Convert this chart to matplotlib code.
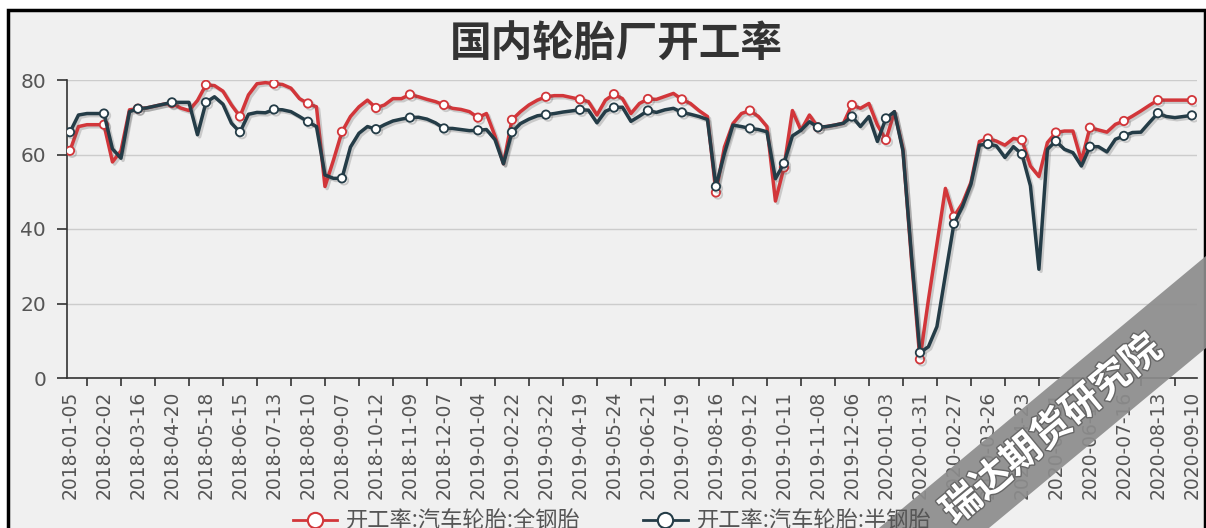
import matplotlib
matplotlib.use("Agg")
import numpy as np
import matplotlib.pyplot as plt
import matplotlib.patheffects as pe
from matplotlib.patches import Polygon, Rectangle
from matplotlib.lines import Line2D


# weekly tyre plant operating rate
tick_labels = [
    "2018-01-05", "2018-02-02", "2018-03-16", "2018-04-20", "2018-05-18", "2018-06-15",
    "2018-07-13", "2018-08-10", "2018-09-07", "2018-10-12", "2018-11-09", "2018-12-07",
    "2019-01-04", "2019-02-22", "2019-03-22", "2019-04-19", "2019-05-24", "2019-06-21",
    "2019-07-19", "2019-08-16", "2019-09-12", "2019-10-11", "2019-11-08", "2019-12-06",
    "2020-01-03", "2020-01-31", "2020-02-27", "2020-03-26", "2020-04-23", "2020-05-21",
    "2020-06-18", "2020-07-16", "2020-08-13", "2020-09-10",
]

all_steel = [
    61, 67.5, 68, 68, 68, 58, 61, 72, 72.3, 72.5, 73, 73.5, 73.8, 72.5, 71.8, 74.5,
    78.7, 78.5, 77, 73.3, 70.2, 76, 79, 79.3, 79, 78.8, 77.8, 75, 73.7, 72.8, 51.4, 58.5,
    66.1, 70.2, 72.8, 74.6, 72.5, 73.3, 75, 75, 76.1, 75.5, 74.8, 74.2, 73.3, 72.4, 72.1, 71.5,
    69.9, 71, 65, 57.5, 69.3, 71.5, 73.3, 74.6, 75.5, 75.8, 75.8, 75.3, 74.8, 74.2, 70.6, 74.6,
    76.2, 75, 71, 73.7, 74.9, 74.8, 75.6, 76.4, 74.8, 73.7, 71.8, 70.2, 49.8, 62, 68.3, 71,
    71.8, 70.2, 67.5, 47.5, 56.5, 71.8, 66.5, 70.6, 67.3, 67.5, 67.9, 68.4, 73.3, 72.4, 73.7, 67.9,
    63.9, 71.5, 61.5, 32, 5, 21, 36, 50.9, 43.3, 46.9, 52.5, 63.5, 64.3, 63.6, 62.5, 64.3,
    63.9, 56.9, 54.1, 63.2, 65.9, 66.3, 66.3, 58.3, 67.2, 66.6, 66, 68.1, 69, 70.3, 71.7, 73.2,
    74.6, 74.6, 74.6, 74.6, 74.6,
]

semi_steel = [
    66, 70.6, 71, 71, 71, 61.5, 59, 71.5, 72.3, 72.5, 73, 73.5, 74, 74, 74, 65.3,
    74, 75.5, 73.5, 68.4, 66, 70.8, 71.3, 71.2, 72.1, 72, 71.5, 70.2, 68.8, 67.5, 54.5, 53.6,
    53.6, 62, 65.7, 67.5, 66.8, 68, 69, 69.5, 69.9, 70, 69.5, 68.5, 67, 67, 66.7, 66.4,
    66.5, 66.7, 64, 57.5, 66, 68.3, 69.5, 70.4, 70.7, 71, 71.4, 71.7, 72, 71.9, 68.5, 71.6,
    72.6, 72.7, 68.9, 70.3, 71.8, 71.3, 72, 72.4, 71.3, 70.8, 70.2, 69.4, 51.4, 60.3, 67.9, 67.5,
    67, 66.7, 66.1, 53.5, 57.6, 65, 66.5, 68.8, 67.3, 67.5, 67.9, 68.4, 70.2, 67.5, 70.2, 63.5,
    69.7, 71.5, 61, 33, 6.8, 8.4, 13.8, 27.7, 41.4, 46, 52, 62.5, 62.8, 62.3, 59.2, 62.1,
    60.1, 51.6, 29.2, 61.4, 63.6, 61.4, 60.5, 56.9, 62.1, 62.1, 60.7, 64.1, 65, 65.9, 66, 68.6,
    71.1, 70.2, 69.9, 70.2, 70.5,
]

series_names = ["开工率:汽车轮胎:全钢胎", "开工率:汽车轮胎:半钢胎"]
RED = "#d2363a"
DARK = "#243c47"
CJK = "Noto Sans CJK SC"

plt.rcParams["font.family"] = ["DejaVu Sans"]

W, H = 1206, 528


def fx(px):
    return px / W


def fy(py):
    return 1 - py / H


fig = plt.figure(figsize=(W / 100, H / 100), dpi=100, facecolor="white")

# grey panel with black frame (below the axes)
fig.patches.append(Rectangle((fx(8), -0.1), fx(1205) - fx(8), fy(10) + 0.1,
                             transform=fig.transFigure, facecolor="#f0f0f0",
                             edgecolor="black", lw=2.5, zorder=-5))

ax = fig.add_axes([fx(67), fy(378), fx(1197) - fx(67), fy(80) - fy(378)])
ax.set_facecolor("none")
ax.set_zorder(1)

x = np.arange(len(all_steel))
shadow = [pe.SimpleLineShadow(offset=(1.5, -1.5), alpha=0.25, shadow_color="#555555"), pe.Normal()]
for vals, col in [(all_steel, RED), (semi_steel, DARK)]:
    ax.plot(x, vals, color=col, lw=2.5, marker="o", markevery=4, ms=6, mfc="white",
            mec=col, mew=1.3, path_effects=shadow, zorder=3)

ax.set_xlim(-0.35, 132.6)
ax.set_ylim(0, 80)
ax.set_yticks([0, 20, 40, 60, 80])
ax.grid(axis="y", color="#cccccc", lw=1)
ax.set_axisbelow(True)

ax.set_xticks(np.arange(0, len(all_steel), 4))
ax.set_xticklabels(tick_labels, rotation=90, fontsize=13.5, color="#555555")
ax.set_xticks(np.arange(2, len(all_steel), 4), minor=True)
ax.tick_params(axis="x", which="major", length=0, pad=9)
ax.tick_params(axis="x", which="minor", length=6, color="#333333", width=1.2)
ax.tick_params(axis="y", length=7, color="#333333", width=1.2, pad=8,
               labelsize=14.5, labelcolor="#555555")

for s in ["top", "right"]:
    ax.spines[s].set_visible(False)
for s in ["left", "bottom"]:
    ax.spines[s].set_color("#333333")
    ax.spines[s].set_linewidth(1.2)

fig.text(fx(616), fy(45), "国内轮胎厂开工率", fontsize=30, fontweight="bold",
         family=CJK, ha="center", va="center", color="#333333")

handles = [Line2D([], [], color=c, lw=2, marker="o", ms=11, mfc="white", mec=c, mew=1.5)
           for c in (RED, DARK)]
leg = fig.legend(handles, series_names, loc="center", bbox_to_anchor=(fx(612), fy(521)),
                 ncol=2, frameon=False, prop={"family": CJK, "size": 16},
                 handlelength=2.0, columnspacing=2.8, handletextpad=0.4)
for t in leg.get_texts():
    t.set_color("#555555")

# watermark band
band = [(879, 528), (1206, 256), (1206, 348), (989, 528)]
fig.patches.append(Polygon([(fx(a), fy(b)) for a, b in band], closed=True,
                           transform=fig.transFigure, facecolor="#8c8c8c",
                           edgecolor="none", alpha=0.92, zorder=5))
fig.text(fx(1052), fy(430), "瑞达期货研究院", fontsize=28, fontweight="bold",
         family=CJK, color="white", rotation=39.7, ha="center", va="center",
         rotation_mode="anchor", zorder=6,
         path_effects=[pe.withStroke(linewidth=2, foreground="#666666")])

fig.savefig("out.png", dpi=100, facecolor=fig.get_facecolor())
